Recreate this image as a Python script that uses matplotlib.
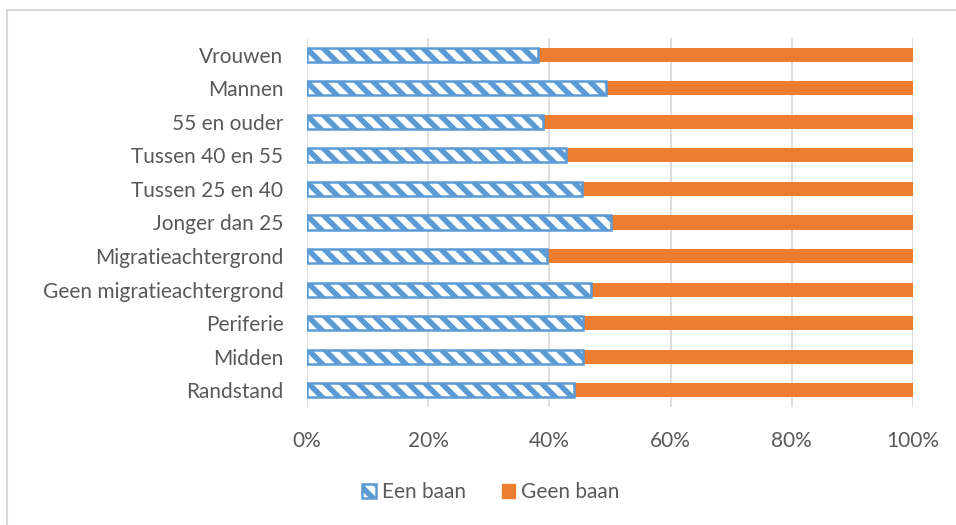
import matplotlib
matplotlib.use("Agg")
import matplotlib.pyplot as plt
from matplotlib.lines import Line2D
from matplotlib.patches import Patch

categories = ["Vrouwen", "Mannen", "55 en ouder", "Tussen 40 en 55", "Tussen 25 en 40",
              "Jonger dan 25", "Migratieachtergrond", "Geen migratieachtergrond",
              "Periferie", "Midden", "Randstand"]
een_baan = [38.2, 49.4, 39.0, 42.8, 45.4, 50.2, 39.6, 46.9, 45.5, 45.6, 44.1]
geen_baan = [100 - v for v in een_baan]
xticks = [0, 20, 40, 60, 80, 100]
xticklabels = ["0%", "20%", "40%", "60%", "80%", "100%"]

blue = "#5B9BD5"
orange = "#ED7D31"
gray_text = "#595959"

plt.rcParams['font.family'] = ['Lato', 'DejaVu Sans']
plt.rcParams['hatch.linewidth'] = 4.5

fig = plt.figure(figsize=(9.56, 5.25), dpi=100)
ax = fig.add_axes([307/956, 1-407/525, 606/956, 369/525])

y = list(range(len(categories)))[::-1]
h = 0.42
ax.barh(y, een_baan, height=h, color=blue, edgecolor='white', hatch='\\\\', linewidth=0, zorder=3)
ax.barh(y, een_baan, height=h, facecolor='none', edgecolor=blue, linewidth=1.8, zorder=4)
ax.barh(y, geen_baan, left=een_baan, height=h, color=orange, linewidth=0, zorder=3)

ax.set_xlim(0, 100)
ax.set_ylim(-0.5, len(categories) - 0.5)
ax.set_yticks(y)
ax.set_yticklabels(categories, fontsize=15, color=gray_text)
ax.set_xticks(xticks)
ax.set_xticklabels(xticklabels, fontsize=15, color=gray_text)
ax.tick_params(axis='both', length=0)
ax.tick_params(axis='y', pad=17)
ax.tick_params(axis='x', pad=17)
ax.grid(axis='x', color='#D9D9D9', linewidth=1.2, zorder=0)
for s in ax.spines.values():
    s.set_visible(False)

h1 = (Patch(facecolor=blue, edgecolor='white', hatch='\\\\', linewidth=0),
      Patch(facecolor='none', edgecolor=blue, linewidth=1.8))
h2 = Patch(facecolor=orange, edgecolor=orange)
leg = fig.legend([h1, h2], ["Een baan", "Geen baan"], loc='center',
                 bbox_to_anchor=(491/956, 1-492/525), ncol=2, frameon=False,
                 fontsize=15, handlelength=0.65, handleheight=0.65, columnspacing=1.7,
                 handletextpad=0.3)
for t in leg.get_texts():
    t.set_color(gray_text)

# outer frame
fig.add_artist(Line2D([7/956, 7/956], [0, 1-10/525], transform=fig.transFigure, color='#D9D9D9', linewidth=1.5))
fig.add_artist(Line2D([7/956, 1], [1-10/525, 1-10/525], transform=fig.transFigure, color='#D9D9D9', linewidth=1.5))

fig.savefig("out.png", dpi=100)
